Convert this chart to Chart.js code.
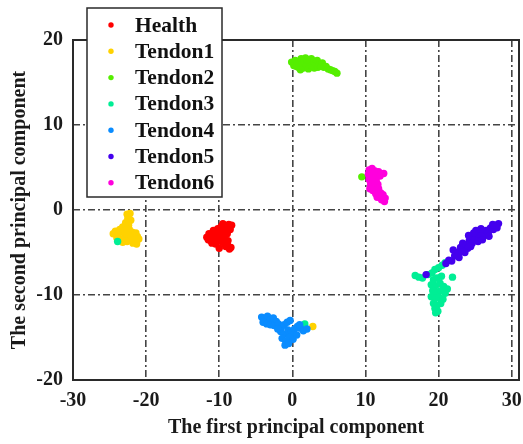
<!DOCTYPE html>
<html>
<head>
<meta charset="utf-8">
<script src="https://cdn.jsdelivr.net/npm/chart.js@4.4.0/dist/chart.umd.min.js"></script>
<style>
  html, body { margin: 0; padding: 0; background: #fff; }
  #wrap { width: 523px; height: 444px; }
</style>
</head>
<body>
<div id="wrap"><canvas id="pcaChart" width="523" height="444"></canvas></div>
<script>
// PCA scores, one array of [PC1, PC2] pairs per condition
const seriesNames = ['Health', 'Tendon1', 'Tendon2', 'Tendon3', 'Tendon4', 'Tendon5', 'Tendon6'];

const health = [
  [-11.7,-3.2],[-11.4,-2.8],[-11.2,-3.6],[-10.9,-3.0],[-10.8,-2.4],[-10.6,-3.4],[-10.4,-2.9],
  [-10.2,-2.2],[-10.1,-3.5],[-9.9,-2.7],[-9.8,-3.1],[-9.7,-1.9],[-9.6,-3.8],[-9.4,-2.5],
  [-9.3,-3.3],[-9.2,-4.1],[-9.0,-2.0],[-8.9,-2.8],[-8.8,-3.6],[-8.7,-1.7],[-8.5,-2.3],
  [-8.4,-4.4],[-8.6,-4.6],[-9.1,-4.3],[-8.3,-1.8],[-11.0,-3.9],[-10.5,-4.0],[-9.5,-1.6],
  [-8.9,-3.9],[-10.0,-4.5],[-11.5,-3.5],[-10.3,-2.5]
];
const tendon1 = [
  [-22.6,-0.5],[-22.2,-0.4],[-22.5,-1.0],[-22.1,-1.2],[-22.8,-1.5],[-22.4,-1.8],[-23.2,-2.0],
  [-23.6,-2.3],[-24.2,-2.5],[-24.5,-2.8],[-23.9,-2.9],[-23.4,-2.6],[-22.9,-2.4],[-22.3,-2.3],
  [-21.9,-2.6],[-21.4,-2.7],[-21.2,-3.1],[-21.7,-3.2],[-22.2,-3.0],[-23.0,-3.3],[-23.5,-3.4],
  [-22.0,-3.6],[-21.5,-3.6],[-21.3,-4.0],[-21.8,-3.9],[-22.6,-3.7],[-23.2,-3.8],[-24.0,-3.3],
  [-22.7,-2.8],[-21.0,-3.4],[2.8,-13.7]
];
const tendon2 = [
  [-0.1,17.4],[0.2,17.0],[0.4,17.6],[0.6,17.2],[0.8,16.8],[1.0,17.5],[1.2,17.8],[1.3,17.1],
  [1.5,16.7],[1.6,17.4],[1.8,17.9],[1.9,17.0],[2.1,17.6],[2.2,16.6],[2.4,17.3],[2.6,17.8],
  [2.7,16.9],[2.9,17.5],[3.0,16.7],[3.2,17.2],[3.4,17.6],[3.5,16.8],[3.7,17.1],[3.9,16.9],
  [4.1,17.3],[4.3,16.8],[4.6,16.9],[4.9,16.6],[5.2,16.5],[5.5,16.4],[5.8,16.3],[6.1,16.1],
  [0.5,16.9],[1.1,16.5],[2.0,17.7],[9.5,3.9]
];
const tendon3 = [
  [16.8,-7.7],[17.3,-7.9],[17.8,-8.0],[18.6,-7.6],[19.1,-7.4],[19.5,-7.0],[20.0,-6.8],
  [20.5,-6.5],[20.9,-6.2],[21.9,-7.9],[19.3,-8.2],[19.8,-8.0],[20.4,-7.8],[19.0,-8.8],
  [19.6,-8.9],[20.2,-8.6],[20.7,-9.0],[19.2,-9.5],[19.7,-9.7],[20.3,-9.5],[20.9,-9.8],
  [19.0,-10.2],[19.5,-10.4],[20.1,-10.3],[20.6,-10.5],[19.3,-11.0],[19.8,-11.2],[20.3,-11.0],
  [19.5,-11.6],[19.9,-11.9],[19.6,-12.1],[21.2,-9.3],[25.4,-2.5],[1.7,-13.4],[-23.9,-3.7]
];
const tendon4 = [
  [-4.2,-12.6],[-3.8,-12.8],[-3.4,-12.5],[-3.0,-12.9],[-2.6,-12.7],[-2.2,-13.1],[-4.0,-13.2],
  [-3.5,-13.4],[-3.0,-13.5],[-2.5,-13.6],[-1.9,-13.4],[-1.5,-13.8],[-1.1,-13.5],[-0.7,-13.2],
  [-0.3,-13.0],[-1.6,-14.3],[-1.1,-14.6],[-0.6,-14.1],[-0.2,-14.5],[0.3,-14.0],[0.7,-13.7],
  [1.1,-13.9],[1.5,-14.2],[-1.4,-15.1],[-0.9,-15.4],[-0.4,-15.0],[0.1,-15.2],[0.6,-14.7],
  [-1.0,-15.9],[-0.5,-15.7],[1.0,-13.5],[2.0,-14.0],[-2.0,-14.0]
];
const tendon5 = [
  [18.3,-7.6],[21.0,-6.3],[21.4,-5.9],[21.8,-6.0],[22.2,-5.4],[22.0,-4.7],[22.6,-5.0],
  [23.0,-4.4],[23.4,-4.8],[23.3,-3.9],[23.8,-4.1],[24.2,-3.6],[24.0,-4.5],[24.6,-3.9],
  [24.5,-3.1],[25.0,-3.4],[25.3,-2.8],[25.6,-3.3],[25.9,-2.6],[26.2,-3.0],[26.5,-2.4],
  [26.8,-2.7],[27.1,-2.1],[27.5,-2.3],[27.8,-1.8],[28.2,-1.6],[28.0,-2.1],[25.1,-2.4],
  [24.1,-3.0],[22.8,-5.6],[23.6,-5.0],[23.2,-4.9],[24.4,-4.3],[25.4,-3.7],[26.0,-3.5],
  [26.9,-3.1],[24.8,-2.7],[25.8,-2.2],[27.4,-1.7]
];
const tendon6 = [
  [10.5,4.7],[10.9,4.9],[11.3,4.6],[11.8,4.5],[12.5,4.3],[10.4,4.2],[10.8,4.0],[11.2,4.3],
  [11.6,3.9],[10.5,3.6],[11.0,3.5],[11.5,3.3],[10.7,3.0],[11.2,2.8],[11.7,3.0],[10.6,2.5],
  [11.0,2.3],[11.8,2.5],[12.1,2.0],[11.4,1.9],[11.9,1.6],[12.4,1.8],[12.7,1.4],[12.2,1.2],
  [12.6,1.0],[11.6,1.5],[10.9,3.8],[12.0,4.0]
];

const xTicks = [-30, -20, -10, 0, 10, 20, 30];
const yTicks = [-20, -10, 0, 10, 20];

const seriesData = [health, tendon1, tendon2, tendon3, tendon4, tendon5, tendon6];
const seriesColors = ['#ff0000', '#ffd200', '#55ee00', '#00ee95', '#0a8cff', '#4400ee', '#ff00dd'];

const serif = 'Liberation Serif';
const gridDash = [7, 3, 2, 3];

// frame around the plot area plus the boxed legend in the upper left
const framePlugin = {
  id: 'frame',
  afterDraw(chart) {
    const { ctx, chartArea: a } = chart;
    ctx.save();
    ctx.strokeStyle = '#2a2a2a';
    ctx.lineWidth = 2;
    ctx.strokeRect(a.left, a.top, a.right - a.left, a.bottom - a.top);

    ctx.fillStyle = '#fff';
    ctx.fillRect(87, 8, 135, 189);
    ctx.lineWidth = 1.5;
    ctx.strokeRect(87, 8, 135, 189);
    ctx.font = 'bold 21.5px "' + serif + '"';
    ctx.textBaseline = 'middle';
    seriesNames.forEach((name, i) => {
      const y = 25 + i * 26.3;
      ctx.fillStyle = seriesColors[i];
      ctx.beginPath();
      ctx.arc(111, y, 2.7, 0, Math.PI * 2);
      ctx.fill();
      ctx.fillStyle = '#111';
      ctx.fillText(name, 135, y + 1);
    });
    ctx.restore();
  }
};

const tickFont = { family: serif, size: 20, weight: 'bold' };
const titleFont = { family: serif, size: 20, weight: 'bold' };

const ctx = document.getElementById('pcaChart').getContext('2d');
const pcaChart = new Chart(ctx, {
  type: 'scatter',
  data: {
    datasets: seriesNames.map((name, i) => ({
      label: name,
      data: seriesData[i].map(p => ({ x: p[0], y: p[1] })),
      backgroundColor: seriesColors[i],
      borderWidth: 0,
      pointRadius: 3.7,
      order: seriesNames.length - i
    }))
  },
  options: {
    responsive: false,
    animation: false,
    layout: { padding: { top: 40, right: 2, left: 0, bottom: 0 } },
    plugins: { legend: { display: false }, tooltip: { enabled: false } },
    scales: {
      x: {
        type: 'linear',
        min: -30,
        max: 31,
        afterBuildTicks: s => { s.ticks = xTicks.map(v => ({ value: v })); },
        afterFit: s => { s.height = 64; s.paddingLeft = 0; s.paddingRight = 0; },
        grid: { color: '#444', lineWidth: 1.6, drawTicks: false },
        border: { display: false, dash: gridDash },
        ticks: { padding: 9, color: '#1a1a1a', font: tickFont, maxRotation: 0 },
        title: {
          display: true,
          text: 'The first principal component',
          color: '#1a1a1a',
          font: titleFont,
          padding: { top: 0, bottom: 4 }
        }
      },
      y: {
        type: 'linear',
        min: -20,
        max: 20,
        afterBuildTicks: s => { s.ticks = yTicks.map(v => ({ value: v })); },
        afterFit: s => { s.width = 73; s.paddingTop = 0; s.paddingBottom = 0; },
        grid: { color: '#444', lineWidth: 1.6, drawTicks: false },
        border: { display: false, dash: gridDash },
        ticks: { padding: 10, color: '#1a1a1a', font: tickFont },
        title: {
          display: true,
          text: 'The second principal component',
          color: '#1a1a1a',
          font: titleFont,
          padding: { top: 8, bottom: 0 }
        }
      }
    }
  },
  plugins: [framePlugin]
});
</script>
</body>
</html>
